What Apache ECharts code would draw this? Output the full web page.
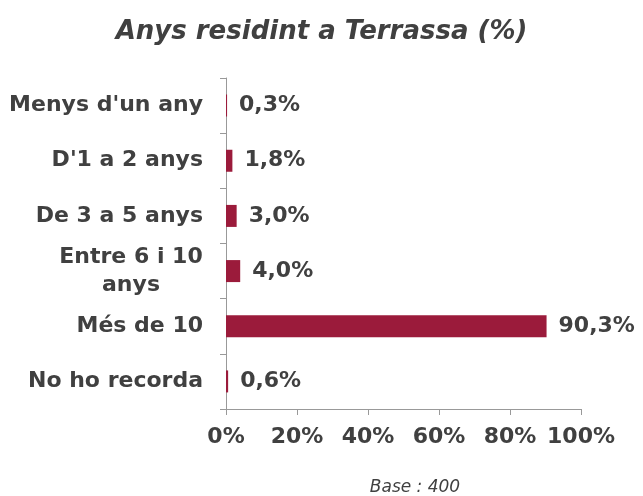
<!DOCTYPE html>
<html>
<head>
<meta charset="utf-8">
<script src="https://cdn.jsdelivr.net/npm/echarts@6/dist/echarts.min.js"></script>
<style>html,body{margin:0;padding:0;background:#fff;}#c{width:643px;height:496px;}</style>
</head>
<body>
<div id="c"></div>
<script>
const categories = ["Menys d'un any", "D'1 a 2 anys", "De 3 a 5 anys", "Entre 6 i 10\nanys", "Més de 10", "No ho recorda"];
const values = [0.3, 1.8, 3.0, 4.0, 90.3, 0.6];
const xTicks = [0, 20, 40, 60, 80, 100];
const titleText = "Anys residint a Terrassa (%)";
const footText = "Base : 400";

const fam = '"DejaVu Sans", Verdana, sans-serif';
const labelSize = 22;
const cv = document.createElement('canvas').getContext('2d');
cv.font = 'bold ' + labelSize + 'px ' + fam;

const chart = echarts.init(document.getElementById('c'), null, {renderer: 'canvas'});
chart.setOption({
  animation: false,
  backgroundColor: '#ffffff',
  title: [{
    text: titleText, left: 'center', top: 14,
    textStyle: {fontFamily: fam, fontSize: 26, fontWeight: 'bold', fontStyle: 'italic', color: '#404040'}
  }, {
    text: footText, left: 410, top: 474, textAlign: 'center',
    textStyle: {fontFamily: fam, fontSize: 17, fontWeight: 'normal', fontStyle: 'italic', color: '#404040'}
  }],
  grid: {left: 226, top: 78, width: 355, height: 331, containLabel: false},
  xAxis: {
    type: 'value', min: xTicks[0], max: xTicks[xTicks.length - 1], interval: 20,
    axisLine: {show: true, lineStyle: {color: '#999999', width: 1}},
    axisTick: {show: true, length: 6, lineStyle: {color: '#999999'}},
    splitLine: {show: false},
    axisLabel: {formatter: '{value}%', margin: 17, fontFamily: fam, fontSize: labelSize, fontWeight: 'bold', color: '#404040'}
  },
  yAxis: {
    type: 'category', data: categories, inverse: true,
    axisLine: {show: true, lineStyle: {color: '#999999', width: 1}},
    axisTick: {show: true, length: 6, lineStyle: {color: '#999999'}},
    axisLabel: {
      margin: 23, fontFamily: fam, fontSize: labelSize, fontWeight: 'bold', color: '#404040', align: 'right', lineHeight: 28,
      formatter: v => {
        const lines = v.split('\n');
        if (lines.length === 1) return v;
        const w = Math.ceil(Math.max(...lines.map(l => cv.measureText(l).width)));
        return lines.map(l => '{c' + w + '|' + l + '}').join('\n');
      },
      rich: (() => {
        const r = {};
        categories.forEach(c => {
          const lines = c.split('\n');
          if (lines.length > 1) {
            const w = Math.ceil(Math.max(...lines.map(l => cv.measureText(l).width)));
            r['c' + w] = {width: w, align: 'center', fontFamily: fam, fontSize: labelSize, fontWeight: 'bold', color: '#404040', lineHeight: 28};
          }
        });
        return r;
      })()
    }
  },
  series: [{
    type: 'bar', data: values, barWidth: 22,
    itemStyle: {color: '#9b1b3b'},
    label: {
      show: true, position: 'right', distance: 12,
      formatter: p => p.value.toFixed(1).replace('.', ',') + '%',
      fontFamily: fam, fontSize: labelSize, fontWeight: 'bold', color: '#404040'
    }
  }]
});
</script>
</body>
</html>
